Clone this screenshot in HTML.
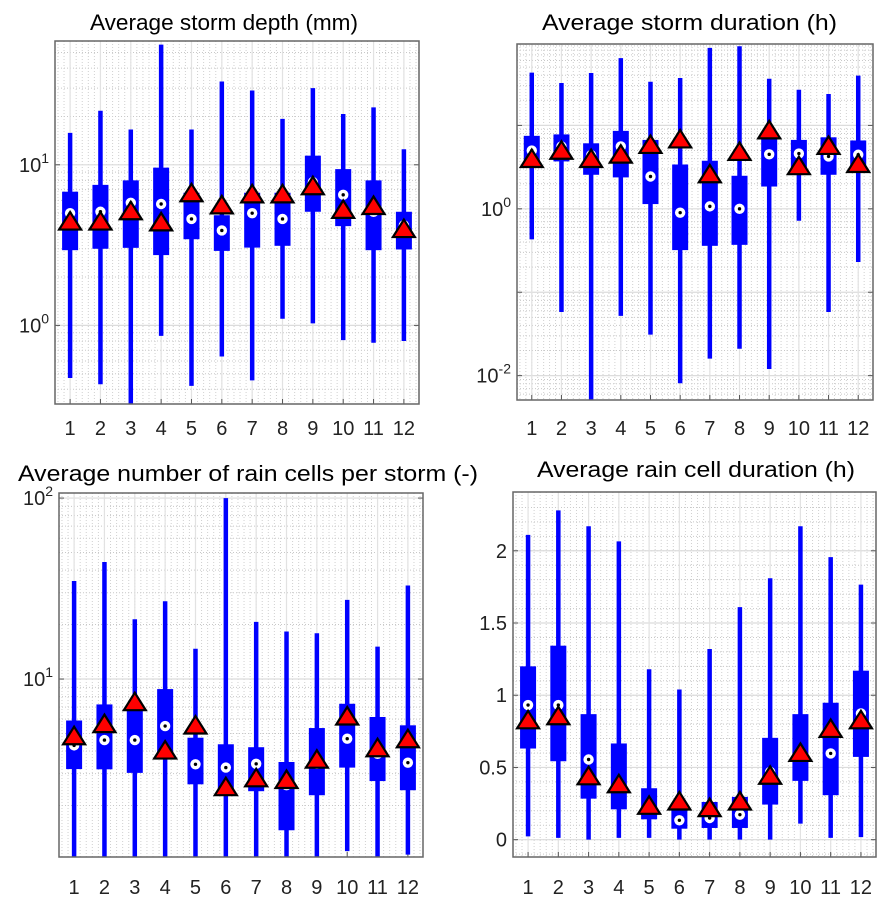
<!DOCTYPE html>
<html>
<head>
<meta charset="utf-8">
<style>
html,body{margin:0;padding:0;background:#fff;}
svg{display:block;font-family:"Liberation Sans",Arial,sans-serif;}
</style>
</head>
<body>
<svg id="fig" width="895" height="911" viewBox="0 0 895 911" xmlns="http://www.w3.org/2000/svg"></svg>
<script>
const months = [1,2,3,4,5,6,7,8,9,10,11,12];

// Panel 1: Average storm depth (mm)
const depthWhiskerHigh = [15.8,21.7,16.6,56,16.6,33,29,19.3,30,20.7,22.8,12.5];
const depthQ3 = [6.8,7.5,8.0,9.6,6.7,4.85,6.7,6.7,11.4,9.4,8.0,5.1];
const depthQ1 = [2.94,3.0,3.04,2.74,3.44,2.91,3.05,3.13,5.1,4.15,2.94,2.97];
const depthWhiskerLow = [0.47,0.43,0.3,0.86,0.42,0.64,0.455,1.1,1.03,0.81,0.78,0.80];
const depthCircle = [5.0,5.1,5.8,5.7,4.6,3.9,5.0,4.6,7.8,6.5,5.1,4.2];
const depthTriangle = [4.4,4.4,5.1,4.35,6.6,5.55,6.5,6.5,7.3,5.2,5.5,3.95];

// Panel 2: Average storm duration (h)
const durWhiskerHigh = [43,32.2,42.5,64,33.4,37,85,89,36.3,26.8,23.8,39.5];
const durQ3 = [7.5,7.8,6.1,8.6,6.7,3.4,3.77,2.49,7.4,6.7,7.2,6.6];
const durQ1 = [3.7,3.7,2.56,2.38,1.14,0.32,0.36,0.37,1.85,2.68,2.56,2.8];
const durWhiskerLow = [0.43,0.058,0.005,0.052,0.031,0.0081,0.016,0.021,0.012,0.72,0.058,0.23];
const durCircle = [5.0,5.6,4.4,5.6,2.44,0.9,1.07,1.0,4.5,4.6,4.25,4.45];
const durTriangle = [3.9,4.9,3.9,4.4,5.75,6.7,2.56,4.74,8.6,3.2,5.6,3.4];

// Panel 3: Average number of rain cells per storm (-)
const cellsWhiskerHigh = [34.8,44.3,21.4,26.9,14.7,100,20.7,18.3,17.9,27.4,15.1,32.9];
const cellsQ3 = [5.9,7.24,7.0,8.8,4.74,4.36,4.2,3.48,5.36,7.3,6.17,5.55];
const cellsQ1 = [3.18,3.17,3.03,3.78,2.62,2.43,2.4,1.46,2.28,3.24,2.73,2.43];
const cellsWhiskerLow = [1.0,1.0,1.0,1.0,1.0,1.0,1.0,1.0,1.0,1.12,1.0,1.07];
const cellsCircle = [4.3,4.6,4.6,5.5,3.38,3.24,3.4,2.59,3.4,4.68,3.86,3.45];
const cellsTriangle = [4.8,5.6,7.4,4.0,5.5,2.51,2.81,2.75,3.56,6.17,4.12,4.62];

// Panel 4: Average rain cell duration (h)
const cellDurWhiskerHigh = [2.11,2.28,2.17,2.065,1.18,1.04,1.32,1.61,1.81,2.17,1.956,1.766];
const cellDurQ3 = [1.2,1.343,0.869,0.666,0.356,0.227,0.261,0.296,0.705,0.869,0.948,1.17];
const cellDurQ1 = [0.631,0.543,0.284,0.21,0.141,0.076,0.081,0.081,0.243,0.407,0.308,0.573];
const cellDurWhiskerLow = [0.023,0.012,0.0,0.012,0.012,0.0,0.0,0.0,0.0,0.111,0.012,0.018];
const cellDurCircle = [0.932,0.932,0.555,0.39,0.24,0.134,0.15,0.173,0.469,0.608,0.597,0.874];
const cellDurTriangle = [0.823,0.851,0.435,0.38,0.231,0.261,0.215,0.261,0.439,0.597,0.763,0.823];

const NS = "http://www.w3.org/2000/svg";
const svg = document.getElementById("fig");
function mk(tag, attrs, parent){
  const e = document.createElementNS(NS, tag);
  for (const k in attrs) e.setAttribute(k, attrs[k]);
  (parent||svg).appendChild(e);
  return e;
}

const panels = [
  {key:"storm-depth", title:"Average storm depth (mm)", tx:90, tw:268, ty:30,
   L:55, R:419, T:41, B:404, log:true, ymin:0.324, ymax:59,
   majors:[1,10], labels:[[1,"0"],[10,"1"]],
   d:[depthWhiskerHigh,depthQ3,depthQ1,depthWhiskerLow,depthCircle,depthTriangle], xlabY:435},
  {key:"storm-duration", title:"Average storm duration (h)", tx:542, tw:295, ty:30,
   L:517, R:873, T:44, B:400, log:true, ymin:Math.pow(10,-2.292), ymax:Math.pow(10,1.976),
   majors:[0.01,0.1,1,10], labels:[[0.01,"-2"],[1,"0"]],
   d:[durWhiskerHigh,durQ3,durQ1,durWhiskerLow,durCircle,durTriangle], xlabY:435},
  {key:"rain-cells", title:"Average number of rain cells per storm (-)", tx:18, tw:460, ty:481,
   L:59, R:423, T:493, B:857, log:true, ymin:Math.pow(10,0.0166), ymax:Math.pow(10,2.028),
   majors:[10,100], labels:[[10,"1"],[100,"2"]],
   d:[cellsWhiskerHigh,cellsQ3,cellsQ1,cellsWhiskerLow,cellsCircle,cellsTriangle], xlabY:894},
  {key:"rain-cell-duration", title:"Average rain cell duration (h)", tx:537, tw:318, ty:477,
   L:513, R:876, T:492, B:857, log:false, ymin:-0.12, ymax:2.407,
   majors:[0,0.5,1,1.5,2], labels:[[0,"0"],[0.5,"0.5"],[1,"1"],[1.5,"1.5"],[2,"2"]],
   d:[cellDurWhiskerHigh,cellDurQ3,cellDurQ1,cellDurWhiskerLow,cellDurCircle,cellDurTriangle], xlabY:894}
];

panels.forEach(function(p, pi){
  const g = mk("g", {});
  
  
  const W = p.R - p.L, H = p.B - p.T;
  const lo = p.log ? Math.log10(p.ymin) : p.ymin, hi = p.log ? Math.log10(p.ymax) : p.ymax;
  function yS(v){
    let t = p.log ? Math.log10(Math.max(v,1e-6)) : v;
    return p.B - (t - lo)/(hi - lo)*H;
  }
  const pad = W*0.0415;
  function xS(m){ return p.L + pad + (m-1)*(W - 2*pad)/11; }
  const clipId = "clip"+pi;
  const cp = mk("clipPath", {id:clipId}, g);
  mk("rect", {x:p.L, y:p.T, width:W, height:H}, cp);

  const grid = mk("g", {"clip-path":"url(#"+clipId+")"}, g);
  
  
  const minors = [];
  if (p.log){
    for (let e=-3;e<=2;e++) for (let k=2;k<=9;k++) minors.push(k*Math.pow(10,e));
  } else {
    for (let v=-0.1; v<=2.4; v+=0.1) minors.push(v);
  }
  minors.forEach(function(v){
    const y = yS(v);
    if (y>p.T && y<p.B) mk("line", {x1:p.L, x2:p.R, y1:y, y2:y, stroke:"#c8c8c8", "stroke-width":1, "stroke-dasharray":"1,2"}, grid);
  });
  for (let m=0.6; m<=12.6; m+=0.2){
    const x = xS(m);
    if (x>p.L && x<p.R) mk("line", {x1:x, x2:x, y1:p.T, y2:p.B, stroke:"#d0d0d0", "stroke-width":1, "stroke-dasharray":"1,2"}, grid);
  }
  p.majors.forEach(function(v){
    const y = yS(v);
    mk("line", {x1:p.L, x2:p.R, y1:y, y2:y, stroke:"#dcdcdc", "stroke-width":1.2}, grid);
    mk("line", {x1:p.L, x2:p.L+5, y1:y, y2:y, stroke:"#555", "stroke-width":1}, g);
    mk("line", {x1:p.R-5, x2:p.R, y1:y, y2:y, stroke:"#555", "stroke-width":1}, g);
  });
  months.forEach(function(m){
    const x = xS(m);
    mk("line", {x1:x, x2:x, y1:p.T, y2:p.B, stroke:"#e2e2e2", "stroke-width":1.2}, grid);
    mk("line", {x1:x, x2:x, y1:p.B, y2:p.B-5, stroke:"#555", "stroke-width":1}, g);
  });

  const marks = mk("g", {"clip-path":"url(#"+clipId+")"}, g);
  const [wh, q3, q1, wl, circ, tri] = p.d;
  months.forEach(function(m, i){
    const x = xS(m);
    const w = mk("line", {x1:x, x2:x, y1:yS(wh[i]), y2:yS(wl[i]), stroke:"#0000ff", "stroke-width":4.5}, marks);
    
    
    const yb = yS(q3[i]), yt = yS(q1[i]);
    const b = mk("rect", {x:x-8, y:yb, width:16, height:yt-yb, fill:"#0000ff"}, marks);
    
    
    const cy = yS(circ[i]);
    const c = mk("circle", {cx:x, cy:cy, r:5.2, fill:"#fff"}, marks);
    
    
    mk("circle", {cx:x, cy:cy, r:1.7, fill:"#000"}, marks);
    const ty = yS(tri[i]);
    const t = mk("polygon", {points:(x-11)+","+(ty+7.5)+" "+(x+11)+","+(ty+7.5)+" "+x+","+(ty-10), fill:"#ff0000", stroke:"#000", "stroke-width":2.2, "stroke-linejoin":"miter"}, marks);
    
    
  });

  const fr = mk("rect", {x:p.L, y:p.T, width:W, height:H, fill:"none", stroke:"#666", "stroke-width":1.5}, g);
  
  

  months.forEach(function(m){
    const t = mk("text", {x:xS(m), y:p.xlabY, "font-size":20, "text-anchor":"middle", fill:"#222"}, g);
    t.textContent = String(m);
    
    
  });
  p.labels.forEach(function(l){
    const y = yS(l[0]);
    const t = mk("text", {x:p.L-6, y:y+7, "font-size":20, "text-anchor":"end", fill:"#222"}, g);
    if (p.log){
      const a = mk("tspan", {}, t); a.textContent = "10";
      const s = mk("tspan", {dy:-9, "font-size":14}, t); s.textContent = l[1];
    } else {
      t.textContent = l[1];
    }
    
    
  });
  const tt = mk("text", {x:p.tx, y:p.ty, "font-size":22, "text-anchor":"start", fill:"#000", textLength:p.tw, lengthAdjust:"spacingAndGlyphs"}, g);
  tt.textContent = p.title;
  
  
});
</script>
</body>
</html>
